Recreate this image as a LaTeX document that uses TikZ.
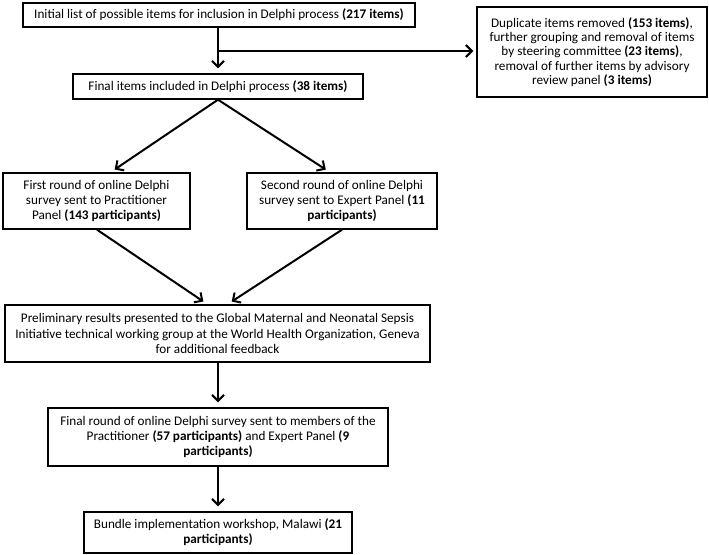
\documentclass[tikz,border=0pt]{standalone}
\usepackage{fontspec}
\setmainfont{Carlito}
\usetikzlibrary{positioning,arrows.meta}
\tikzset{
    >={Straight Barb[length=6pt,width=12pt,line width=2pt]},
    box/.style = {draw, line width=1.4pt, align=center, inner sep=0pt,
                  font=\fontsize{13.2}{15.2}\selectfont},
    flow/.style = {->, line width=2pt, shorten >=5pt},
}

\begin{document}
\begin{tikzpicture}[x=1pt, y=-1pt]
    \useasboundingbox (0,0) rectangle (709,554);

    \node (init) [box, minimum width=392pt, minimum height=24pt] at (219,15)
        {Initial list of possible items for inclusion in Delphi process \textbf{(217 items)}};
    \node (dup) [box, minimum width=230pt, minimum height=90pt,
                 font=\fontsize{13.2}{14.3}\selectfont] at (592,52)
        {Duplicate items removed \textbf{(153 items)},\\
         further grouping and removal of items\\
         by steering committee \textbf{(23 items)},\\
         removal of further items by advisory\\
         review panel \textbf{(3 items)}};
    \node (final) [box, minimum width=290pt, minimum height=25pt] at (218,86.5)
        {Final items included in Delphi process \textbf{(38 items)}};

    \node (first) [box, minimum width=187pt, minimum height=56pt] at (96.5,201)
        {First round of online Delphi\\
         survey sent to Practitioner\\
         Panel \textbf{(143 participants)}};
    \node (second) [box, minimum width=190pt, minimum height=56pt] at (342,201)
        {Second round of online Delphi\\
         survey sent to Expert Panel \textbf{(11}\\
         \textbf{participants)}};

    \node (prelim) [box, minimum width=425pt, minimum height=57pt] at (217.5,333.5)
        {Preliminary results presented to the Global Maternal and Neonatal Sepsis\\
         Initiative technical working group at the World Health Organization, Geneva\\
         for additional feedback};
    \node (round) [box, minimum width=340pt, minimum height=58pt] at (218,437)
        {Final round of online Delphi survey sent to members of the\\
         Practitioner \textbf{(57 participants)} and Expert Panel \textbf{(9}\\
         \textbf{participants)}};
    \node (bundle) [box, minimum width=268pt, minimum height=41pt] at (218,532.5)
        {Bundle implementation workshop, Malawi \textbf{(21}\\
         \textbf{participants)}};

    % removed items branch off the first arrow
    \coordinate (split) at (218,51);
    \draw [flow] (init.south -| final.north) -- (final.north);
    \draw [flow, shorten >=3pt] (split) -- (split -| dup.west);

    \draw [flow] (final.south) -- ([xshift=14pt]first.north);
    \draw [flow] (final.south) -- ([xshift=-12pt]second.north);
    \draw [flow] ([xshift=0.5pt]first.south) -- ([xshift=-10pt]prelim.north);
    \draw [flow] (second.south) -- ([xshift=10pt]prelim.north);
    \draw [flow] (prelim.south -| round.north) -- (round.north);
    \draw [flow] (round.south) -- (bundle.north);
\end{tikzpicture}
\end{document}
